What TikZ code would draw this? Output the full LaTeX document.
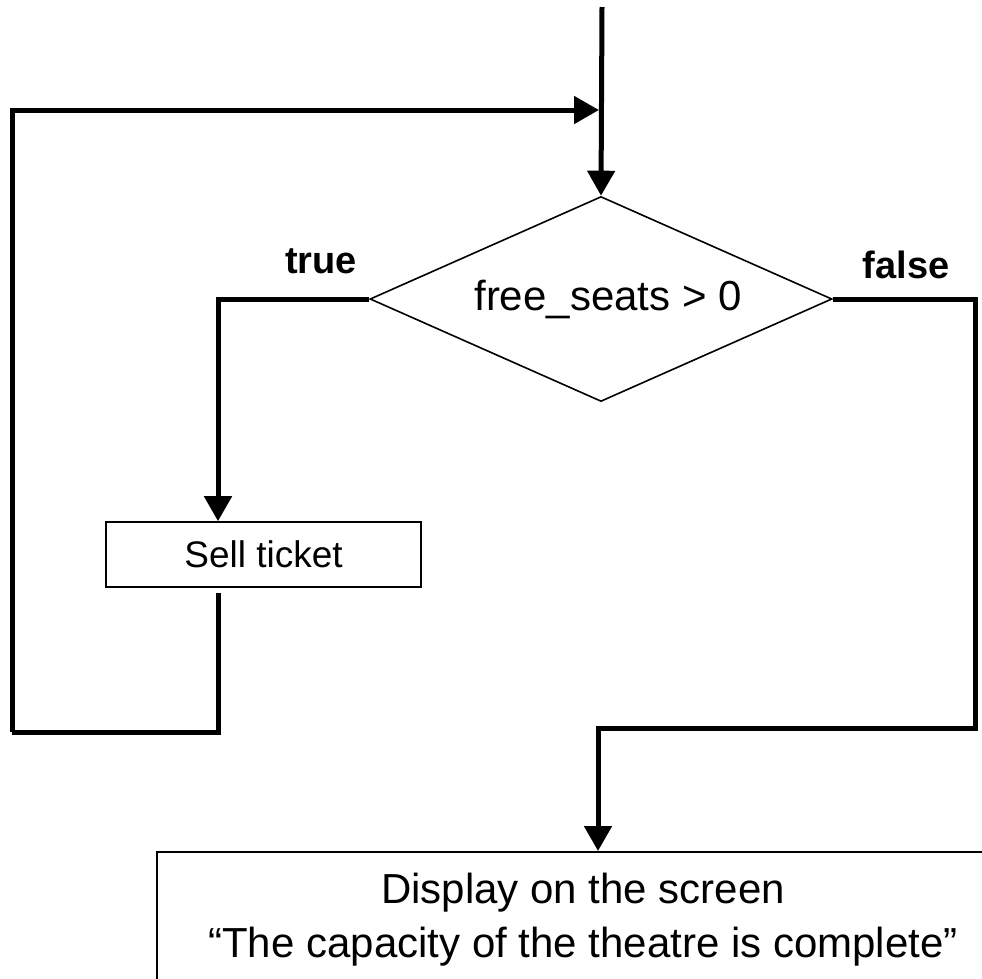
\documentclass[tikz,border=0pt]{standalone}
\usepackage{fontspec}
\setmainfont{Liberation Sans}
\usetikzlibrary{shapes.geometric,arrows.meta}

\begin{document}
\begin{tikzpicture}[x=1pt,y=-1pt,line join=miter,
  flow/.style={line width=5pt},
  arr/.style={flow,-{Triangle[length=25pt,width=27pt]}},
  outline/.style={draw,line width=1.6pt},
  decision/.style={outline,diamond,aspect=2.25,minimum width=462pt,
    minimum height=205pt,inner sep=0pt,font=\fontsize{42}{50}\selectfont},
  process/.style={outline,rectangle,inner sep=0pt,font=\fontsize{37}{44}\selectfont},
  branch/.style={anchor=base,font=\fontsize{38}{44}\selectfont\bfseries}
]
\useasboundingbox (0,0) rectangle (982,978);
\clip (0,0) rectangle (982,978);

% entry point and the loop's return point
\coordinate (top) at (602,7);
\coordinate (join) at (599,110);

% decision and actions
\node[decision] (dec) at (601,299) {\hspace{14pt}\raisebox{-3pt}{free\_seats > 0}};
\node[process,minimum width=315pt,minimum height=65pt] (sell) at (263.5,554.5) {Sell ticket};
\node[process,anchor=north,minimum width=852pt,
      inner ysep=21pt,align=center,font=\fontsize{42}{54}\selectfont]
  (msg) at (583,851) {Display on the screen\\“The capacity of the theatre is complete”};

% branch labels
\node[branch] (tlab) at (321,273) {true};
\node[branch] (flab) at (906,278) {false};

% routing columns and corners
\coordinate (tcol) at (218,0);
\coordinate (loopL) at (12,732);
\coordinate (fcorner) at (975,728);
\coordinate (fcol) at (598,0);

% connectors
\draw[arr] (top) -- (dec.north);
\draw[arr] (dec.west) -| (sell.north -| tcol);
\draw[flow,shorten <=5pt] (sell.south -| tcol) |- (loopL);
\draw[arr] (loopL) |- (join);
\draw[arr] (dec.east) -| (fcorner) -| (msg.north -| fcol);
\end{tikzpicture}
\end{document}
